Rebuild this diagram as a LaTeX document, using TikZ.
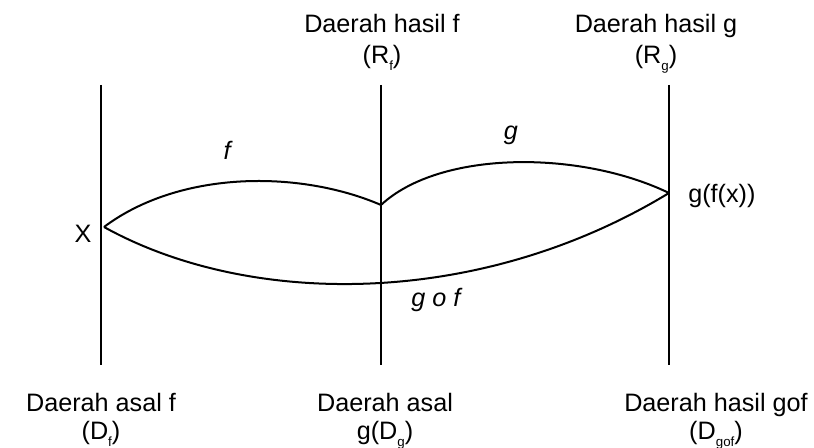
\documentclass[tikz,border=0pt]{standalone}
\usepackage{fontspec}
\setmainfont{Liberation Sans}
\usepackage{tikz}
\usetikzlibrary{positioning,calc}
\newcommand{\lowsub}[1]{\raisebox{-0.5ex}{\fontsize{10}{10}\selectfont #1}}
\tikzset{
    every node/.style={font=\fontsize{18.9}{22}\selectfont,inner sep=0pt},
    axisline/.style={draw=black,line width=2.2pt},
    mapcurve/.style={draw=black,line width=1.5pt},
    lbl/.style={anchor=base},
    maplbl/.style={anchor=base,font=\fontsize{18.9}{22}\selectfont\itshape}
}
\begin{document}
\begin{tikzpicture}[x=0.75pt,y=0.75pt]
\useasboundingbox (0,0) rectangle (814,448);
% the three vertical axes
\coordinate (Dtop) at (101,363); \coordinate (Dbot) at (101,83);
\coordinate (Rtop) at (381,363); \coordinate (Rbot) at (381,83);
\coordinate (Gtop) at (669,363); \coordinate (Gbot) at (669,83);
\draw[axisline] (Dtop) -- (Dbot);
\draw[axisline] (Rtop) -- (Rbot);
\draw[axisline] (Gtop) -- (Gbot);
% points on the axes
\coordinate (ptx) at (104,221);
\coordinate (ptfx) at (381,243);
\coordinate (ptgfx) at (669,255);
% mappings
\draw[mapcurve] (ptx) .. controls (180,278) and (300,278) .. (ptfx);
\draw[mapcurve] (ptfx) .. controls (440,298) and (580,298) .. (ptgfx);
\draw[mapcurve] (ptx) .. controls (250,140) and (480,140) .. (ptgfx);
% labels
\node[maplbl] (lf) at (227,288) {f};
\node[maplbl] (lg) at (511,308) {g};
\node[maplbl] (lgof) at (436,141) {g o f};
\node[lbl] (lx) at (83,205) {X};
\node[lbl,anchor=base west] (lgfx) at (688,245) {g(f(x))};
% top captions
\node[lbl] (rf1) at (382,415) {Daerah hasil f};
\node[lbl] (rf2) at (382,384) {(R\lowsub{f})};
\node[lbl] (rg1) at (656,415) {Daerah hasil g};
\node[lbl] (rg2) at (656,384) {(R\lowsub{g})};
% bottom captions
\node[lbl] (df1) at (101,36) {Daerah asal f};
\node[lbl] (df2) at (101,8) {(D\lowsub{f})};
\node[lbl] (dg1) at (385,36) {Daerah asal};
\node[lbl] (dg2) at (385,8) {g(D\lowsub{g})};
\node[lbl] (dh1) at (716,36) {Daerah hasil gof};
\node[lbl] (dh2) at (716,8) {(D\lowsub{gof})};
\end{tikzpicture}
\end{document}
